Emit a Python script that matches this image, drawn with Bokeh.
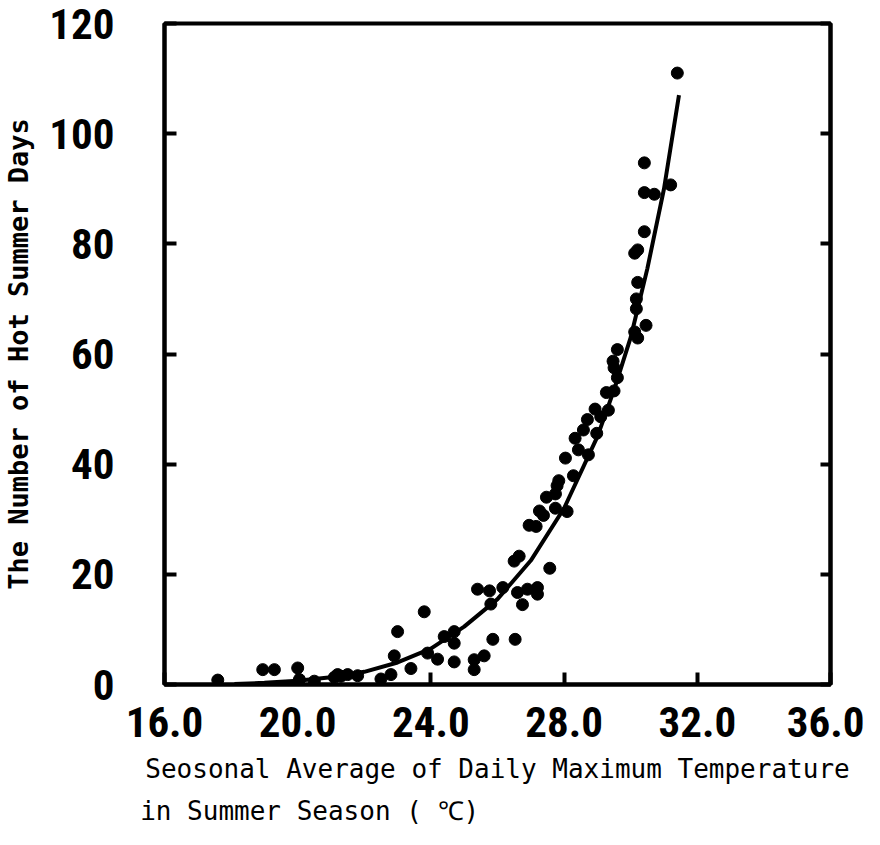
from bokeh.plotting import figure
from bokeh.models import Range1d, FixedTicker, LinearAxis
from bokeh.embed import file_html
from bokeh.resources import INLINE

# ---- data ----
temp = [17.6, 18.95, 19.3, 20.0, 20.05, 20.5, 21.1, 21.3, 21.2, 21.5, 21.8,
        22.5, 22.8, 22.9, 23.0, 23.4, 23.8, 23.9, 24.2, 24.4, 24.7, 24.7, 24.7,
        25.3, 25.3, 25.4, 25.6, 25.76, 26.16, 25.8, 25.86, 26.53, 26.5, 26.65,
        26.6, 26.9, 27.2, 27.2, 26.75, 27.57, 26.95, 27.16, 27.26, 27.38, 27.74,
        28.09, 27.47, 27.74, 27.79, 27.84, 28.04, 28.28, 28.43, 28.73, 28.33,
        28.98, 28.58, 28.7, 29.1, 28.93, 29.33, 29.27, 29.5, 29.6, 29.5, 29.47,
        29.6, 30.12, 30.21, 30.46, 30.17, 30.17, 30.21, 30.12, 30.21, 30.41,
        30.41, 30.71, 31.2, 30.41, 31.4]
days = [0.8, 2.7, 2.7, 3.0, 0.9, 0.6, 1.3, 1.5, 1.8, 1.8, 1.6,
        1.0, 1.8, 5.2, 9.6, 2.9, 13.2, 5.7, 4.6, 8.7, 9.6, 7.5, 4.1,
        4.5, 2.7, 17.3, 5.2, 17.0, 17.6, 14.6, 8.2, 8.2, 22.4, 23.3,
        16.7, 17.3, 17.6, 16.4, 14.5, 21.1, 28.9, 28.7, 31.5, 30.7, 32.0,
        31.4, 34.0, 34.6, 36.1, 37.0, 41.1, 37.9, 42.6, 41.7, 44.7,
        45.6, 46.2, 48.1, 48.6, 50.0, 49.8, 53.0, 53.3, 55.7, 57.5, 58.7,
        60.8, 64.0, 62.9, 65.2, 68.2, 70.0, 73.0, 78.3, 78.9, 82.2,
        89.3, 89.0, 90.7, 94.7, 111.0]

curve_t = [18.1, 19, 20, 21, 22, 23, 24, 25, 26, 27, 28, 29, 29.5, 30, 30.5, 31, 31.45]
curve_n = [0.1, 0.3, 0.7, 1.3, 2.3, 4.0, 6.5, 10.5, 15.5, 22.5, 32, 45, 53.5, 63, 75.5, 90, 107]

x_ticks = [16, 20, 24, 28, 32, 36]
x_tick_labels = ["16.0", "20.0", "24.0", "28.0", "32.0", "36.0"]
y_ticks = [0, 20, 40, 60, 80, 100, 120]

x_title_1 = "Seosonal Average of Daily Maximum Temperature"
x_title_2 = "in Summer Season ( \u2103)"
y_title = "The Number of Hot Summer Days"

MONO = "DejaVu Sans Mono"
TICK_FONT = "Roboto Condensed"

# pad the second (shorter) line with no-break spaces so both lines start together
pad = "\u00a0" * (len(x_title_1) - len(x_title_2))
x_title = x_title_1 + "\n" + x_title_2 + pad

p = figure(width=864, height=829, output_backend="svg", toolbar_location=None,
           x_range=Range1d(16, 36), y_range=Range1d(0, 120),
           min_border_left=157, min_border_right=34, min_border_top=23,
           min_border_bottom=145, background_fill_color="white",
           border_fill_color="white")
p.xgrid.visible = False
p.ygrid.visible = False
p.outline_line_color = "black"
p.outline_line_width = 4

for ax in (p.xaxis[0], p.yaxis[0]):
    ax.axis_line_width = 4
    ax.axis_line_color = "black"
    ax.major_tick_line_width = 4
    ax.major_tick_line_color = "black"
    ax.major_tick_in = 12
    ax.major_tick_out = 0
    ax.minor_tick_line_color = None
    ax.major_label_text_font = TICK_FONT
    ax.major_label_text_font_style = "bold"
    ax.major_label_text_font_size = "43px"
    ax.major_label_text_color = "black"

p.xaxis[0].ticker = FixedTicker(ticks=x_ticks)
p.xaxis[0].major_label_overrides = {t: l for t, l in zip(x_ticks, x_tick_labels)}
p.xaxis[0].major_label_standoff = 22
p.xaxis[0].axis_label = x_title
p.xaxis[0].axis_label_text_align = "left"
p.xaxis[0].axis_label_text_font = MONO
p.xaxis[0].axis_label_text_font_style = "normal"
p.xaxis[0].axis_label_text_font_size = "26px"
p.xaxis[0].axis_label_text_line_height = 1.42
p.xaxis[0].axis_label_standoff = 14
p.xaxis[0].axis_label_text_color = "black"

p.yaxis[0].ticker = FixedTicker(ticks=y_ticks)
p.yaxis[0].major_label_standoff = 50
p.yaxis[0].axis_label = y_title
p.yaxis[0].axis_label_text_font = MONO
p.yaxis[0].axis_label_text_font_style = "bold"
p.yaxis[0].axis_label_text_font_size = "27px"
p.yaxis[0].axis_label_standoff = 12
p.yaxis[0].axis_label_text_color = "black"

right = LinearAxis(ticker=FixedTicker(ticks=y_ticks),
                   major_label_overrides={t: "" for t in y_ticks},
                   axis_line_width=4, major_tick_line_width=4,
                   major_tick_in=10, major_tick_out=0,
                   minor_tick_line_color=None, major_label_standoff=0)
p.add_layout(right, "right")

p.line(curve_t, curve_n, line_color="black", line_width=4)
p.scatter(temp, days, size=12, fill_color="black", line_color="black")

open("out.html", "w").write(file_html(p, INLINE))
